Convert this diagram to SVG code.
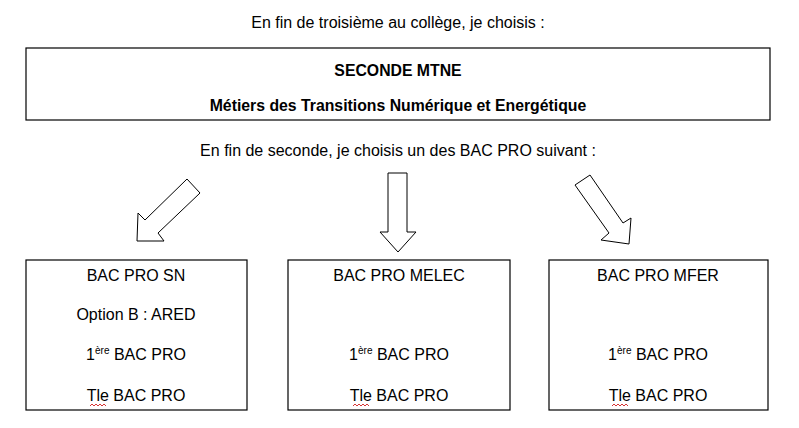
<svg xmlns="http://www.w3.org/2000/svg" width="799" height="428" viewBox="0 0 799 428">
<style>
text{font-family:"Liberation Sans",Arial,sans-serif;font-size:16px;fill:#000;text-anchor:middle}
.b{font-weight:bold;font-size:15.8px}
.box{fill:#fff;stroke:#000;stroke-width:1.2}
.arr{fill:#fff;stroke:#000;stroke-width:1}
.sq{fill:none;stroke:#c00;stroke-width:0.8}
</style>
<rect width="799" height="428" fill="#fff"/>
<text x="398" y="28">En fin de troisième au collège, je choisis :</text>
<g id="seconde">
<rect class="box" x="26" y="48" width="744" height="72"/>
<text class="b" x="398" y="76">SECONDE MTNE</text>
<text class="b" x="398" y="111">Métiers des Transitions Numérique et Energétique</text>
</g>
<text x="398" y="156">En fin de seconde, je choisis un des BAC PRO suivant :</text>
<g id="connectors">
<polygon class="arr" points="187,179 200,193 158,233 164,241 137,241 138,213 145,220"/>
<polygon class="arr" points="388,173 407,173 407,232 416,232 398,252 380,232 388,232"/>
<polygon class="arr" points="575,185 590,175 623,223 631,218 629,244 601,240 609,233"/>
</g>
<g id="sn">
<rect class="box" x="26" y="260" width="221" height="150"/>
<text x="136" y="281">BAC PRO SN</text>
<text x="136" y="320">Option B : ARED</text>
<text x="136" y="360">1<tspan font-size="10" dy="-6">ère</tspan><tspan dy="6"> BAC PRO</tspan></text>
<text x="136" y="401">Tle BAC PRO</text>
<path class="sq" d="M90,406 l2,-2 l2,2 l2,-2 l2,2 l2,-2 l2,2 l2,-2 l2,2"/>
</g>
<g id="melec">
<rect class="box" x="288" y="260" width="222" height="150"/>
<text x="399" y="281">BAC PRO MELEC</text>
<text x="399" y="360">1<tspan font-size="10" dy="-6">ère</tspan><tspan dy="6"> BAC PRO</tspan></text>
<text x="399" y="401">Tle BAC PRO</text>
<path class="sq" d="M353,406 l2,-2 l2,2 l2,-2 l2,2 l2,-2 l2,2 l2,-2 l2,2"/>
</g>
<g id="mfer">
<rect class="box" x="549" y="260" width="219" height="150"/>
<text x="658" y="281">BAC PRO MFER</text>
<text x="658" y="360">1<tspan font-size="10" dy="-6">ère</tspan><tspan dy="6"> BAC PRO</tspan></text>
<text x="658" y="401">Tle BAC PRO</text>
<path class="sq" d="M612,406 l2,-2 l2,2 l2,-2 l2,2 l2,-2 l2,2 l2,-2 l2,2"/>
</g>
</svg>
